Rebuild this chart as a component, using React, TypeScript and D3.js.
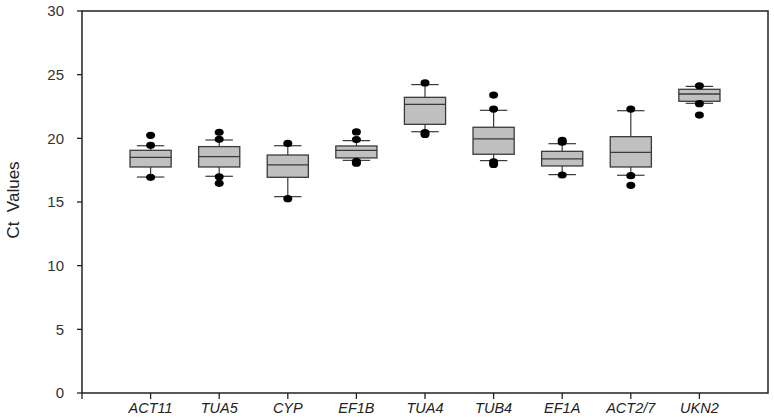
import * as d3 from "d3";

const genes = ["ACT11", "TUA5", "CYP", "EF1B", "TUA4", "TUB4", "EF1A", "ACT2/7", "UKN2"];
const lowerWhisker = [16.96, 17.02, 15.42, 18.27, 20.52, 18.25, 17.15, 17.1, 22.75];
const q1 = [17.75, 17.75, 16.94, 18.46, 21.1, 18.75, 17.83, 17.75, 22.91];
const medians = [18.51, 18.56, 17.91, 19.06, 22.67, 19.95, 18.38, 18.9, 23.48];
const q3 = [19.06, 19.35, 18.69, 19.4, 23.22, 20.87, 18.98, 20.13, 23.85];
const upperWhisker = [19.42, 19.87, 19.42, 19.82, 24.22, 22.2, 19.58, 22.17, 24.08];
const outliers = [
  [20.24, 19.45, 16.94],
  [20.47, 19.92, 16.98, 16.47],
  [19.6, 15.26],
  [20.5, 19.9, 18.2, 18.05],
  [24.35, 20.45, 20.3],
  [23.4, 22.3, 18.15, 17.95],
  [19.85, 19.7, 17.12],
  [22.3, 17.07, 16.31],
  [24.13, 22.72, 21.83],
];
const yTicks = [0, 5, 10, 15, 20, 25, 30];

const W = 774;
const H = 418;
const left = 82, right = 768, top = 11, bottom = 393;

export default function App() {
  const x = d3.scaleLinear().domain([0, 10]).range([left, right]);
  const y = d3.scaleLinear().domain([0, 30]).range([bottom, top]);
  const boxW = x(0.6) - x(0);
  const capW = x(0.4) - x(0);
  const ink = "#222";
  const boxInk = "#3a3a3a";
  const font = "'Liberation Sans', Arial, sans-serif";

  return (
    <svg width={W} height={H} style={{ position: "absolute", left: 0, top: 0, background: "#fff" }}>
      {/* frame */}
      <rect x={left} y={top} width={right - left} height={bottom - top} fill="none" stroke={ink} strokeWidth={1.5} />

      {/* y axis */}
      {yTicks.map((t) => (
        <g key={t}>
          <line x1={left - 5} x2={left} y1={y(t)} y2={y(t)} stroke={ink} strokeWidth={1.3} />
          <text x={left - 18} y={y(t)} dy="0.36em" textAnchor="end" fontFamily={font} fontSize={15} fill="#333">
            {t}
          </text>
        </g>
      ))}
      <text
        transform={`translate(19,200) rotate(-90)`}
        textAnchor="middle"
        fontFamily={font}
        fontSize={17}
        fill="#222"
        style={{ whiteSpace: "pre" }}
      >
        {"Ct  Values"}
      </text>

      {/* x axis */}
      {d3.range(0, 10).map((i) => (
        <line key={i} x1={x(i)} x2={x(i)} y1={bottom} y2={bottom + 6} stroke={ink} strokeWidth={1.3} />
      ))}
      {genes.map((g, i) => (
        <text
          key={g}
          x={x(i + 1)}
          y={bottom + 20}
          textAnchor="middle"
          fontFamily={font}
          fontStyle="italic"
          fontSize={14.5}
          fill="#222"
        >
          {g}
        </text>
      ))}

      {/* boxes */}
      {genes.map((g, i) => {
        const cx = x(i + 1);
        return (
          <g key={g}>
            <line x1={cx} x2={cx} y1={y(q3[i])} y2={y(upperWhisker[i])} stroke={boxInk} strokeWidth={1.2} />
            <line x1={cx} x2={cx} y1={y(q1[i])} y2={y(lowerWhisker[i])} stroke={boxInk} strokeWidth={1.2} />
            <line x1={cx - capW / 2} x2={cx + capW / 2} y1={y(upperWhisker[i])} y2={y(upperWhisker[i])} stroke={boxInk} strokeWidth={1.2} />
            <line x1={cx - capW / 2} x2={cx + capW / 2} y1={y(lowerWhisker[i])} y2={y(lowerWhisker[i])} stroke={boxInk} strokeWidth={1.2} />
            <rect
              x={cx - boxW / 2}
              y={y(q3[i])}
              width={boxW}
              height={y(q1[i]) - y(q3[i])}
              fill="#c0c0c0"
              stroke={boxInk}
              strokeWidth={1.3}
            />
            <line x1={cx - boxW / 2} x2={cx + boxW / 2} y1={y(medians[i])} y2={y(medians[i])} stroke={boxInk} strokeWidth={1.3} />
            {outliers[i].map((v, j) => (
              <ellipse key={j} cx={cx} cy={y(v)} rx={4.5} ry={3.6} fill="#000" />
            ))}
          </g>
        );
      })}
    </svg>
  );
}
